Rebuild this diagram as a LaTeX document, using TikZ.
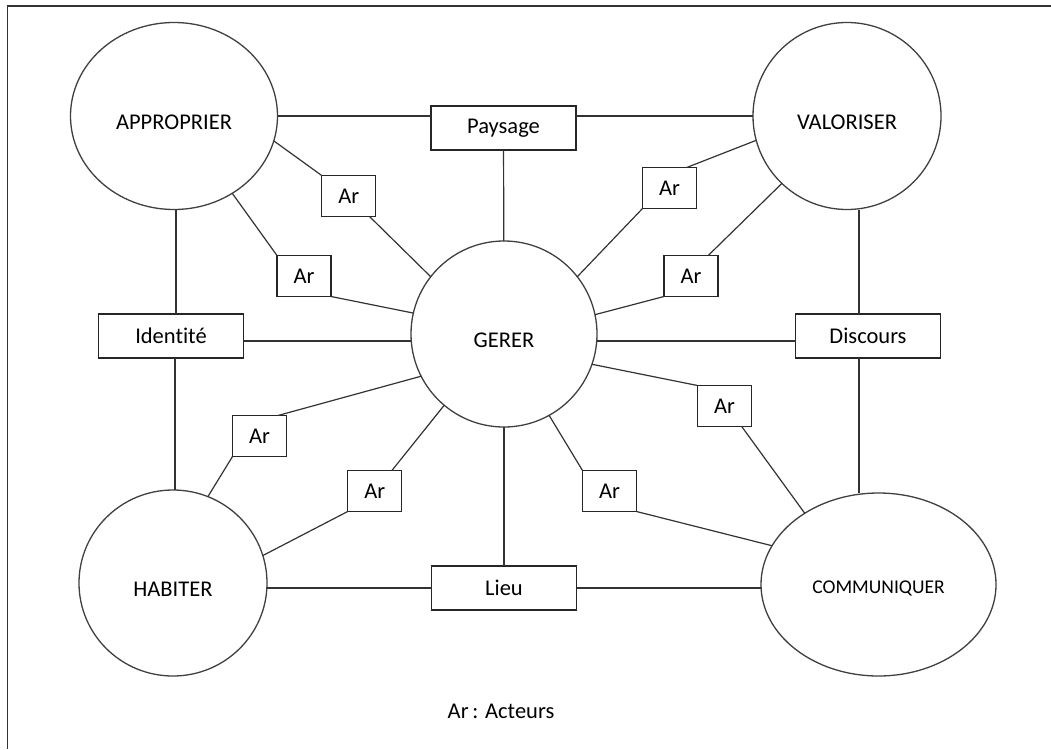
\documentclass[tikz,border=0pt]{standalone}
\usepackage{fontspec}
\setmainfont{Carlito}[Ligatures=NoCommon]
\usetikzlibrary{shapes.geometric,positioning}

\begin{document}
\begin{tikzpicture}[x=1pt,y=-1pt,
  every node/.style={font=\fontsize{22.5}{27}\selectfont,inner sep=0pt,outer sep=0pt},
  pole/.style={draw=black!75,line width=1.3pt,ellipse,text height=26pt,text depth=0pt},
  notion/.style={draw=black!85,line width=1.3pt,rectangle,minimum width=145,minimum height=44},
  acteur/.style={draw=black!85,line width=1.3pt,rectangle,minimum width=54,minimum height=41},
  link/.style={draw=black!80,line width=1.2pt}]
  \fill[white] (0,0) rectangle (1051,749);
  \useasboundingbox (0,0) rectangle (1051,749);
  \draw[line width=1.3pt,black!80] (1051,6) -- (7.5,6) -- (7.5,749);
  % les cinq poles
  \node[pole,minimum width=207,minimum height=187] (appro) at (174,116) {APPROPRIER};
  \node[pole,minimum width=188,minimum height=187] (valo) at (847,116) {VALORISER};
  \node[pole,minimum width=186,minimum height=186] (gerer) at (504,334) {GERER};
  \node[pole,minimum width=188,minimum height=186] (habiter) at (173,583) {HABITER};
  \node[pole,minimum width=235,minimum height=183,text height=18pt,
        font=\fontsize{19.5}{23}\selectfont] (commun) at (878.5,584.5) {COMMUNIQUER};
  % les notions
  \node[notion] (paysage) at (503.5,128) {Paysage};
  \node[notion] (identite) at (171,336) {Identité};
  \node[notion] (discours) at (868,336) {Discours};
  \node[notion] (lieu) at (504,588) {Lieu};
  % les acteurs
  \foreach \n/\x/\y in {1/348.7/196,2/304/276,3/669.5/188,4/691/276,
                        5/259.5/436,6/374.7/491,7/724.5/406,8/609.5/491}
    \node[acteur] (ar\n) at (\x,\y) {Ar};
  \node (legende) at (501,711) {Ar\,: Acteurs};
  % liens
  \draw[link] (appro.east) -- (appro.east -| paysage.west);
  \draw[link] (paysage.east |- valo.west) -- (valo.west);
  \draw[link] (paysage) -- (gerer);
  \draw[link] (lieu) -- (gerer);
  \draw[link] ([xshift=2pt]appro.south) -- ([xshift=2pt]appro.south |- identite.north);
  \draw[link] ([xshift=2pt]habiter.north) -- ([xshift=2pt]habiter.north |- identite.south);
  \draw[link] ([yshift=-5pt]identite.east) -- ([yshift=-5pt]identite.east -| gerer.west);
  \draw[link] ([yshift=-5pt]discours.west) -- ([yshift=-5pt]discours.west -| gerer.east);
  \draw[link] ([xshift=-9pt]discours.north) -- ([xshift=-9pt]discours.north |- valo.south);
  \draw[link] ([xshift=-9pt]discours.south) -- ([xshift=-9pt]discours.south |- commun.north);
  \draw[link] (lieu.west) -- (lieu.west -| habiter.east);
  \draw[link] (lieu.east) -- (lieu.east -| commun.west);
  \foreach \a/\b in {appro.-14/ar1.north west,ar1/gerer.142,
                     appro.-53/ar2.north west,ar2.south east/gerer.167,
                     valo.195/ar3.50,ar3.south west/gerer.38,
                     valo.226/ar4.50,ar4.south west/gerer.12,
                     gerer.207/ar5.48,ar5.south west/habiter.68,
                     gerer.230/ar6.50,ar6.south west/habiter.17,
                     gerer.-19/ar7.north west,ar7.-50/commun.136,
                     gerer.-61/ar8.north west,ar8.south east/commun.160}
    \draw[link] (\a) -- (\b);
\end{tikzpicture}
\end{document}
